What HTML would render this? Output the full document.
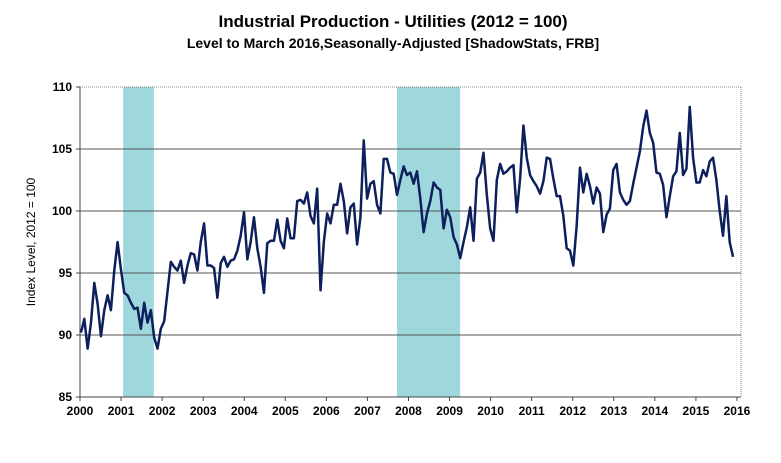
<!DOCTYPE html>
<html><head><meta charset="utf-8"><style>
body{margin:0;background:#fff;}
svg{display:block;font-family:"Liberation Sans",Arial,sans-serif;}
</style></head><body>
<svg id="chart" width="781" height="463">
<text x="393" y="27" text-anchor="middle" font-size="17" font-weight="bold">Industrial Production - Utilities (2012 = 100)</text>
<text x="393" y="48" text-anchor="middle" font-size="14" font-weight="bold">Level to March 2016,Seasonally-Adjusted [ShadowStats, FRB]</text>
<g id="rec"></g><g id="grid"></g><g id="axes"></g><g id="series"></g>
<text transform="translate(35,242) rotate(-90)" text-anchor="middle" font-size="12">Index Level, 2012 = 100</text>
</svg>
<script>
const values=[90.2,91.3,88.9,91,94.2,92.5,89.9,92,93.2,92,95.2,97.5,
95.3,93.4,93.2,92.6,92.1,92.2,90.5,92.6,91,92,89.8,88.9,
90.5,91.1,93.5,95.9,95.5,95.2,96,94.2,95.6,96.6,96.5,95.2,
97.5,99,95.6,95.6,95.4,93,95.8,96.3,95.5,96,96.1,96.8,
98,99.9,96.1,97.5,99.5,97,95.5,93.4,97.4,97.6,97.6,99.3,
97.6,97,99.4,97.8,97.8,100.8,100.9,100.6,101.5,99.6,99,101.8,
93.6,97.5,99.8,99,100.5,100.5,102.2,100.8,98.2,100.3,100.6,97.3,
99.5,105.7,101,102.2,102.4,100.5,99.8,104.2,104.2,103.1,103.0,101.3,
102.5,103.6,102.9,103.1,102.2,103.2,101,98.3,99.8,100.8,102.3,101.9,
101.7,98.6,100.1,99.5,97.9,97.3,96.2,97.5,98.7,100.3,97.6,102.6,
103.1,104.7,101.3,98.6,97.6,102.5,103.8,103.0,103.2,103.5,103.7,99.9,
102.6,106.9,104.3,102.9,102.4,102.0,101.4,102.4,104.3,104.2,102.6,101.2,
101.2,99.6,97.0,96.8,95.6,98.8,103.5,101.5,103.0,102,100.6,101.9,
101.4,98.3,99.7,100.2,103.3,103.8,101.5,100.9,100.5,100.8,102.2,103.5,
104.8,106.8,108.1,106.3,105.5,103.1,103.0,102.1,99.5,101.2,102.8,103.2,
106.3,102.9,103.4,108.4,104.3,102.3,102.3,103.3,102.8,104.0,104.3,102.5,
100.0,98.0,101.2,97.5,96.3];
const years=[2000,2001,2002,2003,2004,2005,2006,2007,2008,2009,2010,2011,2012,2013,2014,2015,2016];
const yTicks=[85,90,95,100,105,110];
const recessions=[[2001.05,2001.8],[2007.72,2009.26]];
const NS="http://www.w3.org/2000/svg";
const L=80,R=741,T=87,B=397;
const xYear=y=>80+(y-2000)*41.06;
const xIdx=i=>81+i*(652/(values.length-1));
const yv=v=>B-(v-85)*(B-T)/25;
function mk(t,a,p){const e=document.createElementNS(NS,t);for(const k in a)e.setAttribute(k,a[k]);p.appendChild(e);return e;}
const rec=document.getElementById('rec'),grid=document.getElementById('grid'),axes=document.getElementById('axes'),ser=document.getElementById('series');
recessions.forEach(r=>{const e=mk('rect',{x:xYear(r[0]),y:T,width:xYear(r[1])-xYear(r[0]),height:B-T,fill:'#9fd8dc'},rec);

});
yTicks.forEach(v=>{if(v>85&&v<110){const g=mk('line',{x1:L,x2:R,y1:yv(v),y2:yv(v),stroke:'#555','stroke-width':1},grid);

}
const t=mk('text',{x:L-8,y:yv(v)+4,'text-anchor':'end','font-size':12,'font-weight':'bold'},axes);t.textContent=v;


mk('line',{x1:L-4,x2:L,y1:yv(v),y2:yv(v),stroke:'#444'},axes);});
mk('line',{x1:R,x2:R,y1:T,y2:B,stroke:'#888','stroke-dasharray':'1,1'},axes);
mk('line',{x1:L,x2:R,y1:T,y2:T,stroke:'#888','stroke-dasharray':'1,1'},axes);
mk('line',{x1:L,x2:L,y1:T,y2:B,stroke:'#444'},axes);
mk('line',{x1:L,x2:R,y1:B,y2:B,stroke:'#444'},axes);
years.forEach(y=>{const x=xYear(y);mk('line',{x1:x,x2:x,y1:B,y2:B+4,stroke:'#444'},axes);
const t=mk('text',{x:x,y:B+18,'text-anchor':'middle','font-size':12,'font-weight':'bold'},axes);t.textContent=y;

});
const line=mk('polyline',{points:values.map((v,i)=>xIdx(i)+','+yv(v)).join(' '),fill:'none',stroke:'#0d1f5c','stroke-width':2.5,'stroke-linejoin':'round'},ser);


</script>
</body></html>
